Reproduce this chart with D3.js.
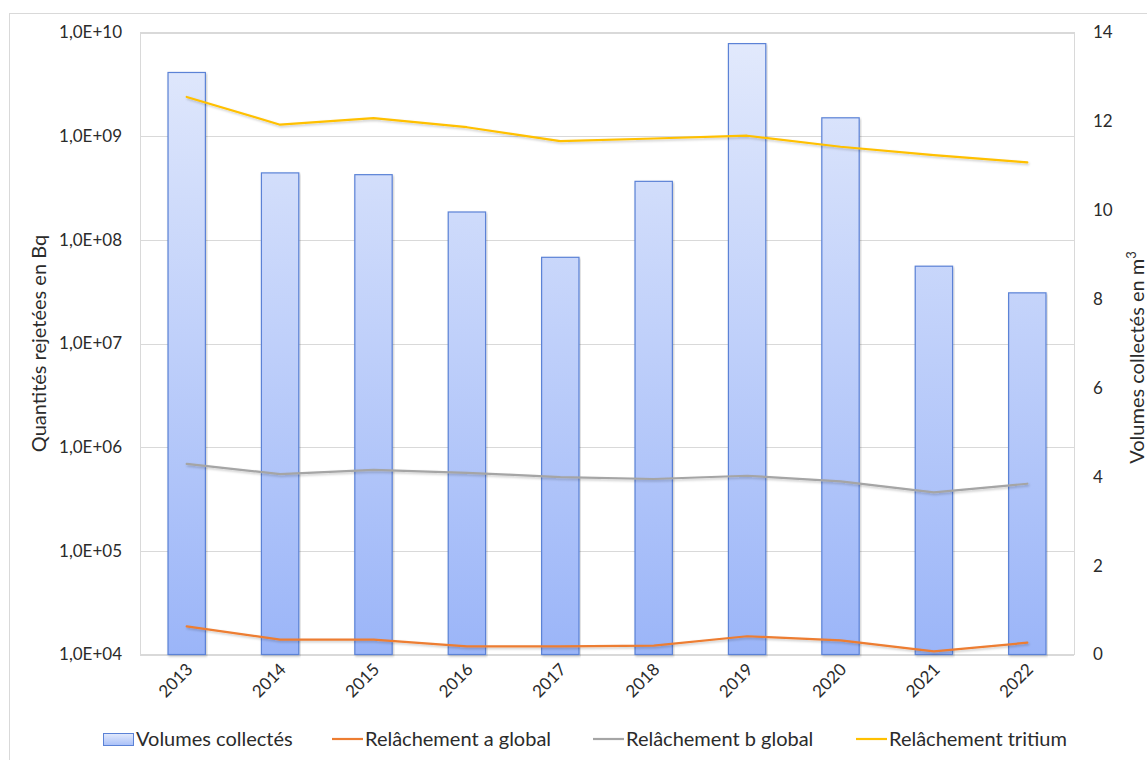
<!DOCTYPE html>
<html>
<head>
<meta charset="utf-8">
<script src="https://cdn.jsdelivr.net/npm/d3@7"></script>
<style>
  html, body { margin: 0; padding: 0; background: #fff; }
  svg { display: block; font-family: Lato, "Open Sans", sans-serif; }
</style>
</head>
<body>
<svg id="chart" width="1147" height="760"></svg>
<script>
// Années
const years = ["2013", "2014", "2015", "2016", "2017", "2018", "2019", "2020", "2021", "2022"];
// Volumes collectés (m³) – axe de droite
const volumes = [13.1, 10.84, 10.8, 9.96, 8.94, 10.65, 13.75, 12.08, 8.74, 8.14];
// Quantités rejetées (Bq) – axe de gauche, logarithmique
const relachementA = [1.87e4, 1.39e4, 1.39e4, 1.20e4, 1.20e4, 1.22e4, 1.50e4, 1.37e4, 1.07e4, 1.30e4];
const relachementB = [6.9e5, 5.5e5, 6.05e5, 5.66e5, 5.15e5, 4.93e5, 5.3e5, 4.68e5, 3.66e5, 4.44e5];
const relachementTritium = [2.39e9, 1.29e9, 1.49e9, 1.22e9, 8.95e8, 9.5e8, 1.01e9, 7.9e8, 6.56e8, 5.58e8];
// Graduations
const leftTicks = [1e4, 1e5, 1e6, 1e7, 1e8, 1e9, 1e10];
const rightTicks = [0, 2, 4, 6, 8, 10, 12, 14];

const svg = d3.select("#chart");
const W = 1147, H = 760;
const m = { left: 140, right: 1074, top: 32.5, bottom: 654.5 };
const textColor = "#2b2b2b";
const font = "Lato, \"Open Sans\", sans-serif";

// Cadre extérieur
svg.append("rect")
  .attr("x", 9.5).attr("y", 13.5)
  .attr("width", W).attr("height", H)
  .attr("fill", "none").attr("stroke", "#d9d9d9");

const x = d3.scaleBand().domain(years).range([m.left, m.right]).paddingInner(0.6).paddingOuter(0.3);
const xc = d => x(d) + x.bandwidth() / 2;
const yL = d3.scaleLog().domain([1e4, 1e10]).range([m.bottom, m.top]);
const yR = d3.scaleLinear().domain([0, 14]).range([m.bottom, m.top]);

const defs = svg.append("defs");
const grad = defs.append("linearGradient").attr("id", "barGrad")
  .attr("gradientUnits", "userSpaceOnUse")
  .attr("x1", 0).attr("y1", m.top).attr("x2", 0).attr("y2", m.bottom);
grad.append("stop").attr("offset", "0%").attr("stop-color", "#e3eafc");
grad.append("stop").attr("offset", "100%").attr("stop-color", "#9bb5f8");
const lgGrad = defs.append("linearGradient").attr("id", "legGrad")
  .attr("x1", 0).attr("y1", 0).attr("x2", 0).attr("y2", 1);
lgGrad.append("stop").attr("offset", "0%").attr("stop-color", "#e3eafc");
lgGrad.append("stop").attr("offset", "100%").attr("stop-color", "#a9c0f8");
const shadow = defs.append("filter").attr("id", "shadow")
  .attr("x", "-5%").attr("y", "-20%").attr("width", "110%").attr("height", "140%");
shadow.append("feDropShadow").attr("dx", 1).attr("dy", 1.5).attr("stdDeviation", 1)
  .attr("flood-color", "#000").attr("flood-opacity", 0.22);

// Quadrillage
svg.append("g").selectAll("line").data(leftTicks).join("line")
  .attr("x1", m.left).attr("x2", m.right)
  .attr("y1", d => Math.round(yL(d)) + 0.5).attr("y2", d => Math.round(yL(d)) + 0.5)
  .attr("stroke", "#d9d9d9").attr("stroke-width", 1);
// Cadre de la zone de tracé
svg.append("rect")
  .attr("x", m.left + 0.5).attr("y", m.top)
  .attr("width", m.right - m.left).attr("height", m.bottom - m.top)
  .attr("fill", "none").attr("stroke", "#d9d9d9");

// Barres : volumes collectés
svg.append("g").selectAll("rect").data(years).join("rect")
  .attr("x", d => x(d)).attr("width", x.bandwidth())
  .attr("y", (d, i) => yR(volumes[i]))
  .attr("height", (d, i) => yR(0) - yR(volumes[i]))
  .attr("fill", "url(#barGrad)")
  .attr("stroke", "#5b82d6").attr("stroke-width", 1.2)
  .attr("filter", "url(#shadow)");

// Courbes
const series = [
  { name: "Relâchement a global", values: relachementA, color: "#ED7D31" },
  { name: "Relâchement b global", values: relachementB, color: "#A5A5A5" },
  { name: "Relâchement tritium", values: relachementTritium, color: "#FFC000" }
];
const line = d3.line().x((d, i) => xc(years[i])).y(d => yL(d));
svg.append("g").selectAll("path").data(series).join("path")
  .attr("d", s => line(s.values))
  .attr("fill", "none").attr("stroke", s => s.color)
  .attr("stroke-width", 2.2).attr("stroke-linejoin", "round").attr("stroke-linecap", "round")
  .attr("filter", "url(#shadow)");

// Axe de gauche
const fmtSci = d => "1,0E+" + String(Math.round(Math.log10(d))).padStart(2, "0");
const axL = svg.append("g").attr("transform", `translate(${m.left},0)`)
  .call(d3.axisLeft(yL).tickValues(leftTicks).tickFormat(fmtSci).tickSize(0).tickPadding(18));
axL.select(".domain").remove();
axL.selectAll("text").attr("font-size", 17).attr("fill", textColor).attr("font-family", font);

// Axe de droite
const axR = svg.append("g").attr("transform", `translate(${m.right},0)`)
  .call(d3.axisRight(yR).tickValues(rightTicks).tickFormat(d3.format("d")).tickSize(0).tickPadding(19));
axR.select(".domain").remove();
axR.selectAll("text").attr("font-size", 17).attr("fill", textColor).attr("font-family", font);

// Axe des abscisses
const axB = svg.append("g").attr("transform", `translate(0,${m.bottom})`)
  .call(d3.axisBottom(x).tickSize(0).tickPadding(0));
axB.select(".domain").remove();
axB.selectAll("text")
  .attr("font-size", 17).attr("fill", textColor).attr("font-family", font)
  .attr("text-anchor", "end")
  .attr("dy", 0)
  .attr("transform", "translate(7,16) rotate(-45)");

// Titres des axes
svg.append("text")
  .attr("transform", `translate(46,${(m.top + m.bottom) / 2}) rotate(-90)`)
  .attr("text-anchor", "middle")
  .attr("font-size", 20).attr("fill", textColor)
  .text("Quantités rejetées en Bq");
const rt = svg.append("text")
  .attr("transform", `translate(1144,${(m.top + m.bottom) / 2 + 14}) rotate(-90)`)
  .attr("text-anchor", "middle")
  .attr("font-size", 20).attr("fill", textColor);
rt.append("tspan").text("Volumes collectés en m");
rt.append("tspan").attr("font-size", 13).attr("dy", -8).text("3");

// Légende
const legY = 739;
const leg = svg.append("g");
leg.append("rect").attr("x", 103.5).attr("y", legY - 5.5).attr("width", 30).attr("height", 12)
  .attr("fill", "url(#legGrad)").attr("stroke", "#5b82d6").attr("stroke-width", 1);
leg.append("text").attr("x", 136).attr("y", legY + 7).attr("font-size", 20).attr("fill", textColor)
  .text("Volumes collectés");
const legLines = [
  { s: series[0], x0: 332 },
  { s: series[1], x0: 593 },
  { s: series[2], x0: 856 }
];
legLines.forEach(o => {
  leg.append("line").attr("x1", o.x0).attr("x2", o.x0 + 31).attr("y1", legY).attr("y2", legY)
    .attr("stroke", o.s.color).attr("stroke-width", 2.2);
  leg.append("text").attr("x", o.x0 + 33).attr("y", legY + 7).attr("font-size", 20).attr("fill", textColor)
    .text(o.s.name);
});
</script>
</body>
</html>
